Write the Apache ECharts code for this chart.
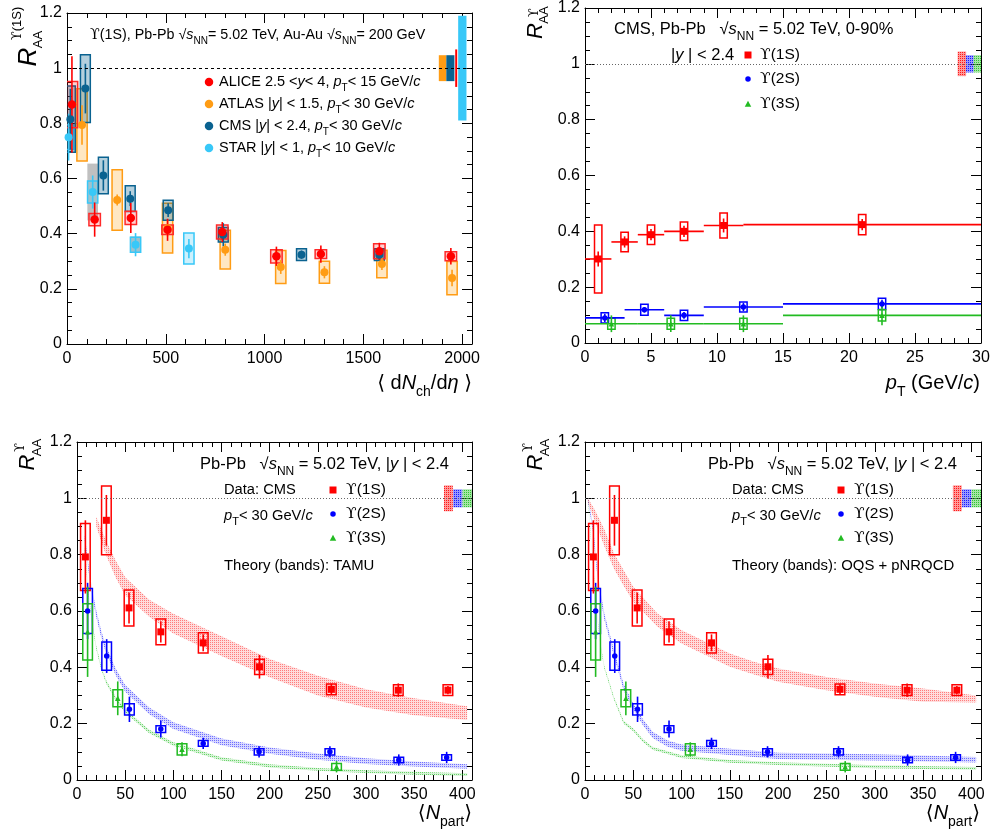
<!DOCTYPE html>
<html lang="en">
<head>
<meta charset="UTF-8">
<title>Upsilon R_AA</title>
<style>
  html, body {margin: 0; padding: 0; background: #fff;}
  #chart {width: 990px; height: 832px;}
</style>
</head>
<body>
<div id="chart"></div>
<script src="https://cdn.jsdelivr.net/npm/echarts@6/dist/echarts.min.js"></script>
<script>
// ---- top left: R_AA of Y(1S) vs <dNch/deta>
var aliceX = [25, 140, 323, 509, 786, 1060, 1285, 1581, 1943];
var aliceY = [0.868, 0.451, 0.457, 0.414, 0.406, 0.318, 0.326, 0.336, 0.318];
var aliceStat = [0.175, 0.062, 0.055, 0.04, 0.036, 0.035, 0.031, 0.031, 0.03];
var aliceSys = [0.084, 0.022, 0.024, 0.017, 0.025, 0.024, 0.016, 0.027, 0.016];

var atlasX = [76, 254, 509, 801, 1082, 1303, 1594, 1949];
var atlasY = [0.794, 0.522, 0.42, 0.342, 0.279, 0.26, 0.29, 0.239];
var atlasStat = [0.072, 0.02, 0.03, 0.022, 0.025, 0.022, 0.022, 0.03];
var atlasSys = [0.131, 0.11, 0.09, 0.07, 0.06, 0.04, 0.05, 0.06];

var cmsX = [17, 93, 184, 320, 512, 791, 1187, 1581];
var cmsY = [0.815, 0.926, 0.611, 0.527, 0.485, 0.396, 0.324, 0.324];
var cmsStat = [0.11, 0.09, 0.055, 0.027, 0.025, 0.042, 0.015, 0.02];
var cmsSys = [0.12, 0.123, 0.066, 0.047, 0.036, 0.026, 0.021, 0.021];

var starX = [8, 130, 347, 617];
var starY = [0.75, 0.551, 0.36, 0.346];
var starStat = [0.085, 0.06, 0.042, 0.035];
var starSys = [0.045, 0.04, 0.027, 0.056];
var starSysGrey = [0, 0.103, 0.03, 0];

// global (normalisation) uncertainties: ATLAS, CMS, ALICE, STAR
var globUnc = [0.047, 0.047, 0.068, 0.19];

// ---- top right: R_AA vs pT
var pt1X = [1, 3, 5, 7.5, 10.5, 21];
var pt1Lo = [0, 2, 4, 6, 9, 12];
var pt1Hi = [2, 4, 6, 9, 12, 30];
var pt1Y = [0.301, 0.362, 0.388, 0.4, 0.421, 0.424];
var pt1Stat = [0.027, 0.02, 0.02, 0.02, 0.025, 0.02];
var pt1Sys = [0.122, 0.035, 0.035, 0.033, 0.045, 0.036];

var pt2X = [1.5, 4.5, 7.5, 12, 22.5];
var pt2Lo = [0, 3, 6, 9, 15];
var pt2Hi = [3, 6, 9, 15, 30];
var pt2Y = [0.09, 0.119, 0.099, 0.129, 0.14];
var pt2Stat = [0.015, 0.01, 0.012, 0.015, 0.015];
var pt2Sys = [0.018, 0.02, 0.018, 0.018, 0.02];

var pt3X = [2, 6.5, 12, 22.5];
var pt3Lo = [0, 4, 9, 15];
var pt3Hi = [4, 9, 15, 30];
var pt3Y = [0.069, 0.069, 0.069, 0.099];
var pt3Stat = [0.03, 0.03, 0.03, 0.035];
var pt3Sys = [0.02, 0.02, 0.02, 0.02];

var ptGlob = [0.044, 0.031, 0.031];

// ---- bottom: R_AA vs <Npart> (same CMS data in both)
var np1X = [8.7, 30.5, 54, 87, 131, 189.4, 264, 333.5, 385];
var np1Y = [0.792, 0.922, 0.611, 0.526, 0.487, 0.402, 0.322, 0.319, 0.319];
var np1Stat = [0.13, 0.09, 0.055, 0.038, 0.03, 0.042, 0.02, 0.024, 0.015];
var np1Sys = [0.119, 0.122, 0.064, 0.046, 0.036, 0.027, 0.019, 0.019, 0.019];

var np2X = [11, 30.8, 54.4, 87, 131, 189, 262.5, 334, 383.7];
var np2Y = [0.6, 0.44, 0.251, 0.181, 0.13, 0.1, 0.1, 0.071, 0.08];
var np2Stat = [0.1, 0.06, 0.045, 0.03, 0.02, 0.02, 0.02, 0.02, 0.02];
var np2Sys = [0.08, 0.05, 0.02, 0.012, 0.01, 0.011, 0.011, 0.01, 0.01];

var np3X = [11, 42.3, 109, 269.4];
var np3Y = [0.526, 0.29, 0.109, 0.047];
var np3Stat = [0.16, 0.06, 0.025, 0.02];
var np3Sys = [0.1, 0.03, 0.02, 0.012];

var npGlob = [0.046, 0.032, 0.032];

// theory bands, TAMU
var tamu1X = [20, 30, 40, 50, 75, 100, 150, 200, 250, 300, 350, 405];
var tamu1Hi = [0.935, 0.85, 0.78, 0.72, 0.64, 0.59, 0.51, 0.43, 0.37, 0.322, 0.29, 0.262];
var tamu1Lo = [0.9, 0.8, 0.72, 0.656, 0.58, 0.52, 0.44, 0.365, 0.3, 0.257, 0.23, 0.213];
var tamu2X = [8, 12, 16, 20, 25, 30, 40, 50, 75, 100, 150, 200, 250, 300, 350, 405];
var tamu2Hi = [0.87, 0.76, 0.672, 0.602, 0.532, 0.477, 0.397, 0.337, 0.257, 0.205, 0.147, 0.115, 0.094, 0.077, 0.066, 0.056];
var tamu2Lo = [0.85, 0.74, 0.648, 0.578, 0.508, 0.453, 0.373, 0.313, 0.233, 0.181, 0.123, 0.093, 0.072, 0.057, 0.048, 0.04];
var tamu3X = [8, 12, 16, 20, 25, 30, 40, 50, 75, 100, 150, 200, 250, 300, 350, 405];
var tamu3Hi = [0.826, 0.666, 0.556, 0.476, 0.406, 0.356, 0.296, 0.251, 0.178, 0.134, 0.081, 0.056, 0.043, 0.035, 0.029, 0.024];
var tamu3Lo = [0.814, 0.654, 0.544, 0.464, 0.394, 0.344, 0.284, 0.239, 0.166, 0.122, 0.069, 0.044, 0.033, 0.025, 0.019, 0.014];

// theory bands, OQS + pNRQCD
var oqs1X = [3, 10, 20, 30, 40, 50, 75, 100, 150, 175, 200, 250, 300, 350, 405];
var oqs1Hi = [1.0, 0.96, 0.89, 0.805, 0.745, 0.686, 0.591, 0.532, 0.449, 0.42, 0.396, 0.366, 0.343, 0.325, 0.3];
var oqs1Lo = [0.985, 0.92, 0.83, 0.75, 0.69, 0.633, 0.544, 0.485, 0.402, 0.375, 0.349, 0.319, 0.296, 0.278, 0.275];
var oqs2X = [3, 8, 12, 16, 20, 30, 40, 50, 60, 70, 85, 100, 150, 200, 300, 405];
var oqs2Hi = [1.0, 0.911, 0.771, 0.671, 0.591, 0.461, 0.341, 0.271, 0.216, 0.171, 0.141, 0.126, 0.111, 0.097, 0.091, 0.082];
var oqs2Lo = [0.99, 0.889, 0.749, 0.649, 0.569, 0.439, 0.319, 0.249, 0.194, 0.149, 0.119, 0.104, 0.089, 0.075, 0.069, 0.062];
var oqs3X = [3, 8, 12, 16, 20, 30, 40, 50, 60, 70, 100, 150, 200, 300, 405];
var oqs3Hi = [1.0, 0.785, 0.605, 0.485, 0.405, 0.295, 0.21, 0.183, 0.145, 0.117, 0.088, 0.071, 0.063, 0.052, 0.046];
var oqs3Lo = [0.99, 0.775, 0.595, 0.475, 0.395, 0.285, 0.2, 0.173, 0.135, 0.107, 0.078, 0.061, 0.053, 0.042, 0.036];

var F = '"Liberation Sans", Arial, "DejaVu Sans", sans-serif';
var FU = '"DejaVu Serif", "Liberation Serif", serif';   // for the upsilon glyph
var RED = '#ff0000', BLUE = '#0000ff', GREEN = '#22bb22';
var ORANGE = '#ff9c14', DBLUE = '#0a6290', LBLUE = '#38c8f8';

var chart = echarts.init(document.getElementById('chart'));

// little dotted pattern like ROOT's hatch fill
function hatch(rgb, a1, a2) {
    var c = document.createElement('canvas');
    c.width = 4; c.height = 4;
    var ctx = c.getContext('2d');
    ctx.fillStyle = 'rgba(' + rgb + ',' + a1 + ')';
    ctx.fillRect(0, 0, 4, 4);
    ctx.fillStyle = 'rgba(' + rgb + ',' + a2 + ')';
    ctx.fillRect(0, 0, 1, 1); ctx.fillRect(2, 2, 1, 1);
    ctx.fillRect(2, 0, 1, 1); ctx.fillRect(0, 2, 1, 1);
    return {image: c, repeat: 'repeat'};
}

var grids = [
    {left: 67, top: 13, width: 405, height: 331},
    {left: 585, top: 8, width: 396, height: 335},
    {left: 77, top: 442, width: 395, height: 338},
    {left: 585, top: 442, width: 396, height: 338}
];
var xRange = [[0, 2050, 500, 100], [0, 30, 5, 1], [0, 410, 50, 10], [0, 410, 50, 10]];

var xAxes = [], yAxes = [];
grids.forEach(function (g, i) {
    var xr = xRange[i];
    ['bottom', 'top'].forEach(function (pos) {
        xAxes.push({
            gridIndex: i, type: 'value', position: pos, min: xr[0], max: xr[1], interval: xr[2],
            axisLine: {show: true, onZero: false, lineStyle: {color: '#000', width: 1}},
            axisTick: {inside: true, length: 10, lineStyle: {color: '#000'}},
            axisLabel: {show: pos === 'bottom', color: '#000', fontSize: 16, fontFamily: F, margin: 7,
                showMinLabel: true, showMaxLabel: true,
                formatter: function (v) { return v % xr[2] === 0 ? String(v) : ''; }},
            splitLine: {show: false}
        });
    });
    ['bottom', 'top'].forEach(function (pos) {
        xAxes.push({
            gridIndex: i, type: 'value', position: pos, min: xr[0], max: xr[1], interval: xr[3],
            axisLine: {show: false, onZero: false},
            axisTick: {inside: true, length: 5, lineStyle: {color: '#000'}},
            axisLabel: {show: false}, splitLine: {show: false}
        });
    });
    ['left', 'right'].forEach(function (pos) {
        yAxes.push({
            gridIndex: i, type: 'value', position: pos, min: 0, max: 1.2, interval: 0.2,
            axisLine: {show: true, onZero: false, lineStyle: {color: '#000', width: 1}},
            axisTick: {inside: true, length: 10, lineStyle: {color: '#000'}},
            axisLabel: {show: pos === 'left', color: '#000', fontSize: 16, fontFamily: F, margin: 5,
                showMinLabel: true, showMaxLabel: true},
            splitLine: {show: false}
        });
    });
    ['left', 'right'].forEach(function (pos) {
        yAxes.push({
            gridIndex: i, type: 'value', position: pos, min: 0, max: 1.2, interval: 0.05,
            axisLine: {show: false, onZero: false},
            axisTick: {inside: true, length: 5, lineStyle: {color: '#000'}},
            axisLabel: {show: false}, splitLine: {show: false}
        });
    });
});

var series = [];

function boxes(g, xs, ys, errs, halfW, stroke, fill, z) {
    series.push({
        type: 'custom', xAxisIndex: g * 4, yAxisIndex: g * 4, z: z || 2, clip: true, silent: true,
        data: xs.map(function (x, i) { return [x, ys[i] - errs[i], ys[i] + errs[i]]; }),
        renderItem: function (params, api) {
            var x = api.value(0);
            if (api.value(2) === api.value(1)) return null;
            var a = api.coord([x - halfW, api.value(2)]);
            var b = api.coord([x + halfW, api.value(1)]);
            return {type: 'rect', shape: {x: a[0], y: a[1], width: b[0] - a[0], height: b[1] - a[1]},
                style: {fill: fill || 'none', stroke: stroke || 'none', lineWidth: 1.5}};
        }
    });
}

function errbars(g, xs, ys, errs, color, xlo, xhi) {
    series.push({
        type: 'custom', xAxisIndex: g * 4, yAxisIndex: g * 4, z: 3, clip: true, silent: true,
        data: xs.map(function (x, i) {
            return [x, ys[i] - errs[i], ys[i] + errs[i], xlo ? xlo[i] : x, xhi ? xhi[i] : x, ys[i]];
        }),
        renderItem: function (params, api) {
            var x = api.value(0);
            var a = api.coord([x, api.value(1)]), b = api.coord([x, api.value(2)]);
            var kids = [{type: 'line', shape: {x1: a[0], y1: a[1], x2: b[0], y2: b[1]},
                style: {stroke: color, lineWidth: 1.6}}];
            if (xlo) {
                var c = api.coord([api.value(3), api.value(5)]), d = api.coord([api.value(4), api.value(5)]);
                kids.push({type: 'line', shape: {x1: c[0], y1: c[1], x2: d[0], y2: d[1]},
                    style: {stroke: color, lineWidth: 1.6}});
            }
            return {type: 'group', children: kids};
        }
    });
}

function points(g, xs, ys, symbol, size, color, unity) {
    var s = {
        type: 'scatter', xAxisIndex: g * 4, yAxisIndex: g * 4, z: 4, silent: true,
        symbol: symbol, symbolSize: size, itemStyle: {color: color, opacity: 1},
        data: xs.map(function (x, i) { return [x, ys[i]]; })
    };
    if (unity) {
        s.markLine = {silent: true, symbol: 'none', label: {show: false}, animation: false,
            lineStyle: unity, data: [{yAxis: 1}]};
    }
    series.push(s);
}

function band(g, xs, lo, hi, fill) {
    series.push({
        type: 'custom', xAxisIndex: g * 4, yAxisIndex: g * 4, z: 1, clip: true, silent: true,
        data: xs.map(function (x, i) { return [x, lo[i], hi[i]]; }),
        renderItem: function (params, api) {
            if (params.dataIndexInside !== 0) return null;
            var n = params.dataInsideLength, pts = [], i;
            for (i = 0; i < n; i++) pts.push(api.coord([api.value(0, i), api.value(2, i)]));
            for (i = n - 1; i >= 0; i--) pts.push(api.coord([api.value(0, i), api.value(1, i)]));
            return {type: 'polygon', shape: {points: pts}, style: {fill: fill}};
        }
    });
}

// panel 1
boxes(0, starX, starY, starSysGrey, 27, null, 'rgba(140,140,140,0.55)');
boxes(0, atlasX, atlasY, atlasSys, 26, ORANGE, 'rgba(255,170,40,0.28)');
boxes(0, starX, starY, starSys, 26, LBLUE, 'rgba(56,200,248,0.25)');
boxes(0, cmsX, cmsY, cmsSys, 25, DBLUE, 'rgba(10,98,144,0.3)');
boxes(0, aliceX, aliceY, aliceSys, 29, '#ff2a2a', 'rgba(255,0,0,0.18)');
boxes(0, [1901], [1], [globUnc[0]], 19, null, ORANGE);
boxes(0, [1940.5], [1], [globUnc[1]], 20.5, null, DBLUE);
boxes(0, [1970], [1], [globUnc[2]], 5, null, RED);
boxes(0, [2001], [1], [globUnc[3]], 21, null, LBLUE);
errbars(0, atlasX, atlasY, atlasStat, ORANGE);
errbars(0, starX, starY, starStat, LBLUE);
errbars(0, cmsX, cmsY, cmsStat, DBLUE);
errbars(0, aliceX, aliceY, aliceStat, RED);
points(0, atlasX, atlasY, 'circle', 8, ORANGE);
points(0, starX, starY, 'circle', 8, LBLUE);
points(0, cmsX, cmsY, 'circle', 8, DBLUE);
points(0, aliceX, aliceY, 'circle', 8.5, RED, {color: '#000', width: 1, type: [3, 3]});

// panel 2
boxes(1, pt1X, pt1Y, pt1Sys, 0.28, RED, null);
boxes(1, pt2X, pt2Y, pt2Sys, 0.28, BLUE, null);
boxes(1, pt3X, pt3Y, pt3Sys, 0.28, GREEN, null);
boxes(1, [28.55], [1], [ptGlob[0]], 0.32, null, hatch('255,0,0', 0.4, 0.85));
boxes(1, [29.15], [1], [ptGlob[1]], 0.29, null, hatch('0,0,255', 0.4, 0.85));
boxes(1, [29.73], [1], [ptGlob[2]], 0.29, null, hatch('30,190,30', 0.4, 0.85));
errbars(1, pt1X, pt1Y, pt1Stat, RED, pt1Lo, pt1Hi);
errbars(1, pt2X, pt2Y, pt2Stat, BLUE, pt2Lo, pt2Hi);
errbars(1, pt3X, pt3Y, pt3Stat, GREEN, pt3Lo, pt3Hi);
points(1, pt1X, pt1Y, 'rect', 7, RED, {color: '#666', width: 1, type: [1, 2]});
points(1, pt2X, pt2Y, 'circle', 5.5, BLUE);
points(1, pt3X, pt3Y, 'triangle', 5.5, GREEN);

// panels 3 and 4
var bands = [
    [tamu1X, tamu1Lo, tamu1Hi, tamu2X, tamu2Lo, tamu2Hi, tamu3X, tamu3Lo, tamu3Hi],
    [oqs1X, oqs1Lo, oqs1Hi, oqs2X, oqs2Lo, oqs2Hi, oqs3X, oqs3Lo, oqs3Hi]
];
[2, 3].forEach(function (g, k) {
    var b = bands[k];
    band(g, b[0], b[1], b[2], hatch('255,60,60', 0.18, 0.6));
    band(g, b[3], b[4], b[5], hatch('40,40,255', 0.18, 0.6));
    band(g, b[6], b[7], b[8], hatch('30,190,30', 0.18, 0.6));
    boxes(g, np1X, np1Y, np1Sys, 5, RED, null);
    boxes(g, np2X, np2Y, np2Sys, 5, BLUE, null);
    boxes(g, np3X, np3Y, np3Sys, 5, GREEN, null);
    boxes(g, [385.5], [1], [npGlob[0]], 4.6, null, hatch('255,0,0', 0.4, 0.85));
    boxes(g, [395.2], [1], [npGlob[1]], 4.8, null, hatch('0,0,255', 0.4, 0.85));
    boxes(g, [405.2], [1], [npGlob[2]], 5, null, hatch('30,190,30', 0.4, 0.85));
    errbars(g, np1X, np1Y, np1Stat, RED);
    errbars(g, np2X, np2Y, np2Stat, BLUE);
    errbars(g, np3X, np3Y, np3Stat, GREEN);
    points(g, np1X, np1Y, 'rect', 7, RED, {color: '#666', width: 1, type: [1, 2]});
    points(g, np2X, np2Y, 'circle', 5.5, BLUE);
    points(g, np3X, np3Y, 'triangle', 5.5, GREEN);
});

// ---- texts
function rich(size) {
    var s = Math.round(size * 0.72);
    return {
        n: {fontSize: size, fontFamily: F, fill: '#000', lineHeight: size * 1.6},
        i: {fontSize: size, fontFamily: F, fontStyle: 'italic', fill: '#000', lineHeight: size * 1.6},
        u: {fontSize: size, fontFamily: FU, fill: '#000', lineHeight: size * 1.6},
        b: {fontSize: s, fontFamily: F, fill: '#000', verticalAlign: 'bottom', lineHeight: s}
    };
}
function label(x, y, text, size, align) {
    return {type: 'text', x: x, y: y, z: 50, silent: true,
        style: {text: text, rich: rich(size), fontSize: size, fontFamily: F, fill: '#000',
            align: align || 'left', verticalAlign: 'middle'}};
}
function plain(x, y, text, font) {
    return {type: 'text', x: x, y: y, silent: true,
        style: {text: text, font: font, fill: '#000', align: 'center', verticalAlign: 'middle'}};
}
function yTitle(x, y, size, supText, subPos, supPos) {
    return {type: 'group', x: x, y: y, rotation: Math.PI / 2, z: 50, children: [
        plain(0, 0, 'R', 'italic ' + size + 'px ' + F),
        plain(subPos[0], subPos[1], 'AA', '13px ' + F),
        {type: 'text', x: supPos[0], y: supPos[1], silent: true,
            style: {text: supText, rich: {u: {fontSize: 13, fontFamily: FU, fill: '#000'},
                n: {fontSize: 13, fontFamily: F, fill: '#000'}},
                fill: '#000', align: 'center', verticalAlign: 'middle'}}
    ]};
}
function mk(shape, x, y, size, color) {
    var h = size / 2;
    if (shape === 'circle') return {type: 'circle', z: 50, shape: {cx: x, cy: y, r: h}, style: {fill: color}};
    if (shape === 'rect') return {type: 'rect', z: 50, shape: {x: x - h, y: y - h, width: size, height: size}, style: {fill: color}};
    return {type: 'polygon', z: 50, shape: {points: [[x, y - h - 0.5], [x - h - 0.5, y + h], [x + h + 0.5, y + h]]}, style: {fill: color}};
}

var sq = '{n|√}{i|s}{b|NN}';
var graphic = [
    yTitle(29, 57, 26, '{u|ϒ}{n|(1S)}', [17.5, 9.5], [33.5, -11.5]),
    yTitle(536, 31, 22, '{u|ϒ}', [16, 8.5], [18.3, -1.7]),
    yTitle(27.5, 462.5, 22, '{u|ϒ}', [15, 9.5], [15, -6.5]),
    yTitle(535.5, 462.5, 22, '{u|ϒ}', [15, 9.5], [15, -6.5]),

    label(472, 383, '{n|⟨ d}{i|N}{b|ch}{n|/d}{i|η}{n| ⟩}', 20, 'right'),
    label(980, 383, '{i|p}{b|T}{n| (GeV/}{i|c}{n|)}', 20, 'right'),
    label(472, 813, '{n|⟨}{i|N}{b|part}{n|⟩}', 20, 'right'),
    label(980, 813, '{n|⟨}{i|N}{b|part}{n|⟩}', 20, 'right'),

    // panel 1 header and legend
    label(90, 35, '{u|ϒ}{n|(1S), Pb-Pb }' + sq + '{n|= 5.02 TeV, Au-Au }' + sq + '{n|= 200 GeV}', 14.3),
    mk('circle', 209, 82, 8.5, RED),
    mk('circle', 209, 104, 8.5, ORANGE),
    mk('circle', 209, 126, 8.5, DBLUE),
    mk('circle', 209, 148, 8.5, LBLUE),
    label(219, 82, '{n|ALICE 2.5 <}{i|y}{n|< 4, }{i|p}{b|T}{n|< 15 GeV/}{i|c}', 14.5),
    label(219, 104, '{n|ATLAS |}{i|y}{n|| < 1.5, }{i|p}{b|T}{n|< 30 GeV/}{i|c}', 14.5),
    label(219, 126, '{n|CMS |}{i|y}{n|| < 2.4, }{i|p}{b|T}{n|< 30 GeV/}{i|c}', 14.5),
    label(219, 148, '{n|STAR |}{i|y}{n|| < 1, }{i|p}{b|T}{n|< 10 GeV/}{i|c}', 14.5),

    // panel 2
    label(614, 29, '{n|CMS, Pb-Pb   }' + sq + '{n| = 5.02 TeV, 0-90%}', 16.5),
    label(671, 55, '{n||}{i|y}{n| | < 2.4}', 16.5),
    mk('rect', 748, 55, 7, RED),
    mk('circle', 748, 79, 5.5, BLUE),
    mk('triangle', 748, 104, 5.5, GREEN),
    label(760, 55, '{u|ϒ}{n|(1S)}', 15.5),
    label(760, 79, '{u|ϒ}{n|(2S)}', 15.5),
    label(760, 104, '{u|ϒ}{n|(3S)}', 15.5)
];

[[200, 224, 333, 'TAMU'], [708, 732, 841, 'OQS + pNRQCD']].forEach(function (p) {
    graphic.push(
        label(p[0], 464, '{n|Pb-Pb   }' + sq + '{n| = 5.02 TeV, |}{i|y}{n| | < 2.4}', 16.5),
        label(p[1], 490, '{n|Data: CMS}', 14.7),
        label(p[1], 516, '{i|p}{b|T}{n|< 30 GeV/}{i|c}', 14.7),
        label(p[1], 566, '{n|Theory (bands): ' + p[3] + '}', 14.9),
        mk('rect', p[2], 490, 7, RED),
        mk('circle', p[2], 514, 5.5, BLUE),
        mk('triangle', p[2], 538, 5.5, GREEN),
        label(p[2] + 13, 490, '{u|ϒ}{n|(1S)}', 15.5),
        label(p[2] + 13, 514, '{u|ϒ}{n|(2S)}', 15.5),
        label(p[2] + 13, 538, '{u|ϒ}{n|(3S)}', 15.5)
    );
});

var option = {
    animation: false,
    backgroundColor: '#fff',
    grid: grids.map(function (g) {
        return {left: g.left, top: g.top, width: g.width, height: g.height, show: false,
            containLabel: false, outerBoundsMode: 'none'};
    }),
    xAxis: xAxes,
    yAxis: yAxes,
    series: series,
    graphic: graphic
};

chart.setOption(option);
</script>
</body>
</html>
